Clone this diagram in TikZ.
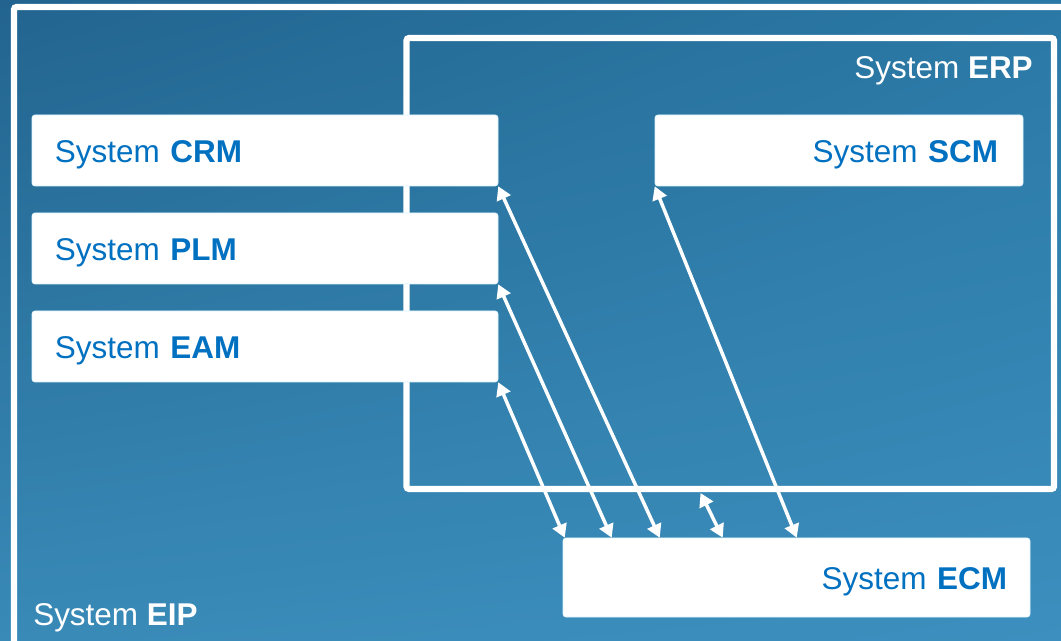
\documentclass[tikz,border=0pt]{standalone}
\usepackage{fontspec}
\setmainfont{Liberation Sans}
\usetikzlibrary{arrows.meta,calc,shadings}
\definecolor{bgtl}{RGB}{34,100,143}
\definecolor{bgtr}{RGB}{42,120,165}
\definecolor{bgbl}{RGB}{57,138,183}
\definecolor{bgbr}{RGB}{60,143,190}
\definecolor{boxtext}{RGB}{0,112,192}
\begin{document}
\begin{tikzpicture}[x=0.75pt,y=-0.75pt,
  sysbox/.style={rectangle,rounded corners=2pt,fill=white,draw=white!85!cyan,line width=0.4pt,
    font=\fontsize{23.6pt}{28pt}\selectfont,text=boxtext,text depth=0pt,text height=18.4pt,
    inner ysep=0pt},
  leftbox/.style={sysbox,minimum width=466*0.75pt,minimum height=71*0.75pt,
    inner xsep=23*0.75pt,text width=420*0.75pt,align=left},
  frameline/.style={draw=white,line width=4.7pt,rounded corners=2pt},
  framelabel/.style={text=white,font=\fontsize{23.6pt}{28pt}\selectfont,inner sep=0pt},
  biarrow/.style={draw=white,line width=2.6pt,
    {Triangle[length=10pt,width=11pt]}-{Triangle[length=10pt,width=11pt]}}]
\useasboundingbox (0,0) rectangle (1061,641);
\shade[upper left=bgtl,upper right=bgtr,lower left=bgbl,lower right=bgbr] (0,0) rectangle (1061,641);
% EIP frame (clipped)
\begin{scope}
\clip (0,0) rectangle (1061,641);
\draw[frameline] (14,7) rectangle (1080,660);
\end{scope}
\node[framelabel,anchor=base west] (eiplabel) at (33,625) {System \textbf{EIP}};
% ERP frame
\node[frameline,rectangle,minimum width=647.5*0.75pt,minimum height=451*0.75pt,inner sep=0pt,outer sep=0pt] (erp) at (730.25,263.5) {};
\node[framelabel,anchor=base east] (erplabel) at (1033,79) {System \textbf{ERP}};
% boxes
\node[leftbox] (crm) at (265,150.5) {System \textbf{CRM}};
\node[leftbox] (plm) at (265,248.5) {System \textbf{PLM}};
\node[leftbox] (eam) at (265,346.5) {System \textbf{EAM}};
\node[sysbox,minimum width=368*0.75pt,minimum height=71*0.75pt,inner xsep=25*0.75pt,
  text width=318*0.75pt,align=right] (scm) at (839,150.5) {System \textbf{SCM}};
\node[sysbox,minimum width=467*0.75pt,minimum height=79*0.75pt,inner xsep=23*0.75pt,
  text width=421*0.75pt,align=right] (ecm) at (796.5,577.5) {System \textbf{ECM}};
% arrows
\draw[biarrow] (crm.south east) -- ($(ecm.north west)+(97,0)$);
\draw[biarrow] (plm.south east) -- ($(ecm.north west)+(49,0)$);
\draw[biarrow] (eam.south east) -- ($(ecm.north west)+(2,0)$);
\draw[biarrow] ($(erp.south west)+(294,4)$) -- ($(ecm.north west)+(160,0)$);
\draw[biarrow] (scm.south west) -- ($(ecm.north west)+(234,0)$);
\end{tikzpicture}
\end{document}
